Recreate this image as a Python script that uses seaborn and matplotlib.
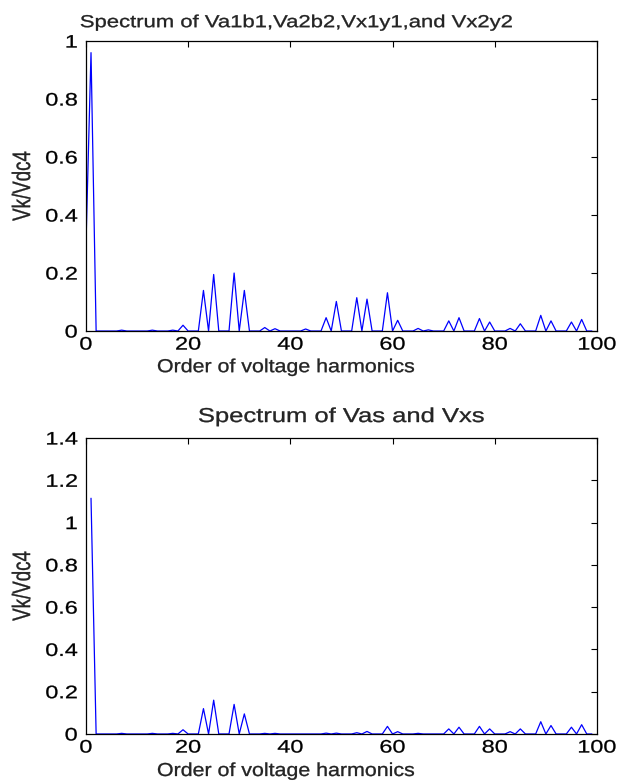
import numpy as np
import pandas as pd
import matplotlib
matplotlib.use("Agg")
import matplotlib.pyplot as plt
import seaborn as sns
from matplotlib.patheffects import AbstractPathEffect
from matplotlib.transforms import Affine2D

sns.set_theme(style="white")
plt.rcParams['font.family'] = ['Liberation Sans', 'DejaVu Sans']

# harmonic orders shown on the x axis
top_orders = list(range(0, 100))
bot_orders = list(range(1, 100))

# top panel: Va1b1, Va2b2, Vx1y1, Vx2y2 (nonzero harmonics)
top_h = [0, 1, 7, 13, 17, 19, 23, 25, 29, 31, 35, 37, 43, 47, 49, 53, 55, 59, 61,
         65, 67, 71, 73, 77, 79, 83, 85, 89, 91, 95, 97]
top_v = [0.29, 0.96, 0.003, 0.003, 0.003, 0.02, 0.14, 0.195, 0.2, 0.14, 0.012, 0.008,
         0.007, 0.046, 0.102, 0.115, 0.11, 0.132, 0.037, 0.009, 0.004, 0.035,
         0.046, 0.043, 0.031, 0.009, 0.025, 0.054, 0.035, 0.031, 0.04]

# bottom panel: Vas and Vxs
bot_h = [1, 7, 13, 17, 19, 23, 25, 29, 31, 35, 37, 47, 49, 53, 55, 59, 61, 65,
         71, 73, 77, 79, 83, 85, 89, 91, 95, 97]
bot_v = [1.115, 0.003, 0.003, 0.003, 0.02, 0.12, 0.16, 0.14, 0.095, 0.003,
         0.003, 0.004, 0.004, 0.006, 0.012, 0.036, 0.011, 0.003, 0.024, 0.032,
         0.036, 0.024, 0.011, 0.024, 0.058, 0.04, 0.032, 0.044]

x_ticks = [0, 20, 40, 60, 80, 100]
top_yticks = [0, 0.2, 0.4, 0.6, 0.8, 1]
bot_yticks = [0, 0.2, 0.4, 0.6, 0.8, 1, 1.2, 1.4]


class HStretch(AbstractPathEffect):
    # the reference text looks wide and dark: stretch glyphs sideways, add a thin stroke
    def __init__(self, sx, anchor='center', lw=0.2):
        super().__init__()
        self.sx = sx
        self.anchor = anchor
        self.lw = lw

    def draw_path(self, renderer, gc, tpath, affine, rgbFace=None):
        bb = tpath.get_extents(affine)
        x0 = {'center': (bb.x0 + bb.x1) / 2, 'right': bb.x1, 'left': bb.x0}[self.anchor]
        st = Affine2D().translate(-x0, 0).scale(self.sx, 1).translate(x0, 0)
        gc0 = renderer.new_gc()
        gc0.copy_properties(gc)
        gc0.set_linewidth(self.lw)
        gc0.set_foreground('black')
        renderer.draw_path(gc0, tpath, affine + st, rgbFace)
        gc0.restore()


def spectrum(orders, h, v):
    s = pd.Series(0.0, index=orders)
    s.loc[h] = v
    return pd.DataFrame({'order': orders, 'mag': s.values})


panels = [
    dict(df=spectrum(top_orders, top_h, top_v), title='Spectrum of Va1b1,Va2b2,Vx1y1,and Vx2y2',
         rect=[0.139, 0.5767, 0.827, 0.3708], ymax=1.0, yt=top_yticks,
         tsize=12.5, tx=0.413, tpad=10, xl_y=-0.097),
    dict(df=spectrum(bot_orders, bot_h, bot_v), title='Spectrum of Vas and Vxs',
         rect=[0.139, 0.0614, 0.827, 0.3785], ymax=1.4, yt=bot_yticks,
         tsize=14.5, tx=0.5, tpad=11.5, xl_y=-0.098),
]

fig = plt.figure(figsize=(6.18, 7.82), dpi=100)

for p in panels:
    ax = fig.add_axes(p['rect'])
    sns.lineplot(data=p['df'], x='order', y='mag', color='#0000ff', lw=0.9, ax=ax)
    ax.set_xlim(0, 100)
    ax.set_ylim(0, p['ymax'])
    ax.set_xticks(x_ticks)
    ax.set_yticks(p['yt'])
    ax.set_yticklabels([f'{t:g}' for t in p['yt']])
    ax.tick_params(direction='in', length=4, width=0.8, top=True, right=True,
                   labelsize=13, colors='black')
    ax.tick_params(axis='x', pad=4)
    ax.tick_params(axis='y', pad=6)
    for lab in ax.get_xticklabels():
        lab.set_path_effects([HStretch(1.3, 'center')])
    for lab in ax.get_yticklabels():
        lab.set_path_effects([HStretch(1.3, 'right')])
    for sp in ax.spines.values():
        sp.set_color('black')
        sp.set_linewidth(0.9)

    t = ax.set_title(p['title'], fontsize=p['tsize'], x=p['tx'], pad=p['tpad'])
    t.set_path_effects([HStretch(1.27)])

    xl = ax.set_xlabel('Order of voltage harmonics', fontsize=13.5)
    ax.xaxis.set_label_coords(0.391, p['xl_y'])
    xl.set_path_effects([HStretch(1.14)])

    yl = ax.set_ylabel('Vk/Vdc4', fontsize=13.5)
    ax.yaxis.set_label_coords(-0.106, 0.5)
    yl.set_path_effects([HStretch(1.35)])

fig.savefig('out.png', dpi=100)
